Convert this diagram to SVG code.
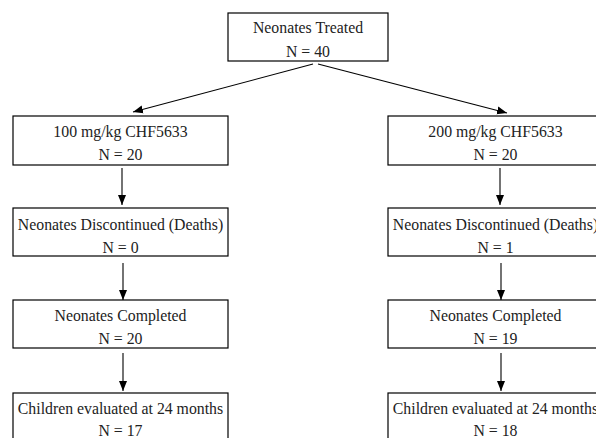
<svg xmlns="http://www.w3.org/2000/svg" width="596" height="438" viewBox="0 0 596 438">
<style>
.box{fill:#fff;stroke:#000;stroke-width:1.2}
.t{font-family:"Liberation Serif","Times New Roman",serif;font-size:15.8px;fill:#222;text-anchor:middle}
.c{stroke:#000;stroke-width:1.1;fill:none;marker-end:url(#ah)}
</style>
<defs>
<marker id="ah" viewBox="0 0 10 10" refX="10" refY="5" markerWidth="10" markerHeight="10" markerUnits="userSpaceOnUse" orient="auto">
<path d="M0,1 L10,5 L0,9 Z" fill="#000"/>
</marker>
</defs>
<rect width="596" height="438" fill="#fff"/>
<g id="connectors">
<line class="c" x1="313" y1="64" x2="133" y2="112"/>
<line class="c" x1="318" y1="64" x2="507" y2="113"/>
<line class="c" x1="122" y1="168" x2="122" y2="205"/>
<line class="c" x1="123" y1="263" x2="123" y2="300"/>
<line class="c" x1="123" y1="353" x2="123" y2="391"/>
<line class="c" x1="500" y1="168" x2="500" y2="205"/>
<line class="c" x1="501" y1="263" x2="501" y2="300"/>
<line class="c" x1="501" y1="353" x2="501" y2="391"/>
</g>
<g id="n0"><rect class="box" x="228" y="13" width="160" height="48"/><text class="t" x="308" y="33">Neonates Treated</text><text class="t" x="308" y="57">N = 40</text></g>
<g id="n1"><rect class="box" x="13" y="116" width="215" height="49"/><text class="t" x="120.5" y="137">100 mg/kg CHF5633</text><text class="t" x="120.5" y="160">N = 20</text></g>
<g id="n2"><rect class="box" x="13" y="208" width="215" height="48"/><text class="t" x="120.5" y="230">Neonates Discontinued (Deaths)</text><text class="t" x="120.5" y="253">N = 0</text></g>
<g id="n3"><rect class="box" x="13" y="300" width="215" height="48"/><text class="t" x="120.5" y="321">Neonates Completed</text><text class="t" x="120.5" y="344">N = 20</text></g>
<g id="n4"><rect class="box" x="13" y="393" width="215" height="60"/><text class="t" x="120.5" y="414">Children evaluated at 24 months</text><text class="t" x="120.5" y="436">N = 17</text></g>
<g id="n5"><rect class="box" x="388" y="116" width="215" height="49"/><text class="t" x="495.5" y="137">200 mg/kg CHF5633</text><text class="t" x="495.5" y="160">N = 20</text></g>
<g id="n6"><rect class="box" x="388" y="208" width="215" height="48"/><text class="t" x="495.5" y="230">Neonates Discontinued (Deaths)</text><text class="t" x="495.5" y="253">N = 1</text></g>
<g id="n7"><rect class="box" x="388" y="300" width="215" height="48"/><text class="t" x="495.5" y="321">Neonates Completed</text><text class="t" x="495.5" y="344">N = 19</text></g>
<g id="n8"><rect class="box" x="388" y="393" width="215" height="60"/><text class="t" x="495.5" y="414">Children evaluated at 24 months</text><text class="t" x="495.5" y="436">N = 18</text></g>
</svg>
